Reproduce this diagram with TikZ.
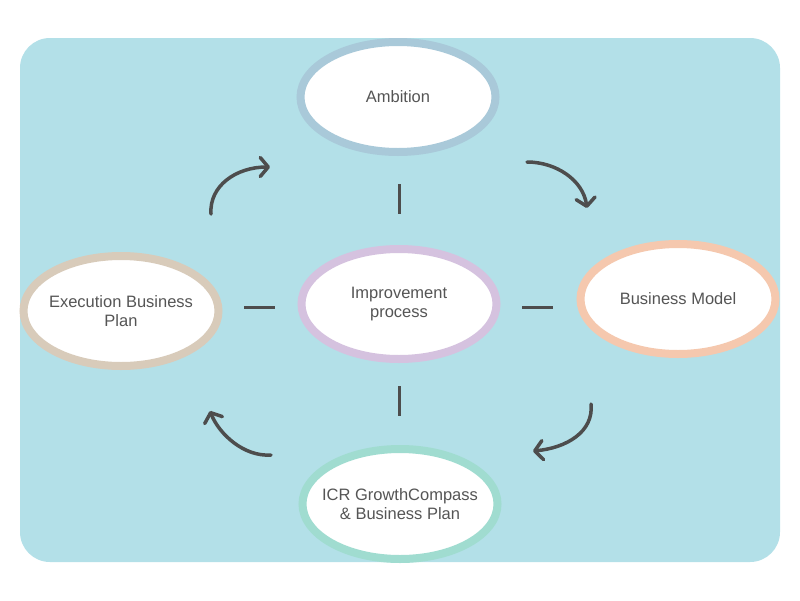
\documentclass[tikz,border=0pt]{standalone}
\usepackage{fontspec}
\setmainfont{Liberation Sans}
\usetikzlibrary{shapes.geometric,arrows.meta}
\definecolor{bgblue}{HTML}{B3E0E8}
\definecolor{cAmb}{HTML}{A9C9D9}
\definecolor{cExe}{HTML}{D8CBBA}
\definecolor{cImp}{HTML}{D5C2DF}
\definecolor{cBus}{HTML}{F5C8AE}
\definecolor{cIcr}{HTML}{A0DCD0}
\definecolor{ink}{HTML}{4D4D4D}
\definecolor{txt}{HTML}{555555}
\tikzset{
  bubble/.style={ellipse, fill=white, line width=8pt, minimum width=195pt, minimum height=110pt,
    align=center, text=txt, font=\fontsize{16.5}{19.5}\selectfont,
    inner xsep=-35pt, inner ysep=-6pt},
  link/.style={draw=ink, line width=3pt},
  flow/.style={draw=ink, line width=3.5pt, line cap=round, line join=round,
    -{Straight Barb[length=8pt,width=19pt,line cap=round,line join=round]}}
}
\begin{document}
\begin{tikzpicture}[x=1pt,y=-1pt]
\useasboundingbox (0,0) rectangle (800,600);
\fill[white] (0,0) rectangle (800,600);
\fill[bgblue, rounded corners=30pt] (20,38) rectangle (780,562);

\node[bubble, draw=cAmb] (amb) at (398,97) {Ambition};
\node[bubble, draw=cImp] (imp) at (399,304) {Improvement\\process};
\node[bubble, draw=cExe] (exe) at (121,311) {Execution Business\\Plan};
\node[bubble, draw=cBus] (bus) at (678,299) {Business Model};
\node[bubble, draw=cIcr] (icr) at (400,504) {ICR GrowthCompass\\\& Business Plan};

% dashes
\coordinate (d1a) at (399,184); \coordinate (d1b) at (399,214);
\coordinate (d2a) at (399,386); \coordinate (d2b) at (399,416);
\coordinate (d3a) at (244,307); \coordinate (d3b) at (275,307);
\coordinate (d4a) at (522,307); \coordinate (d4b) at (553,307);
\draw[link] (d1a) -- (d1b);
\draw[link] (d2a) -- (d2b);
\draw[link] (d3a) -- (d3b);
\draw[link] (d4a) -- (d4b);

% arrows
\coordinate (a1s) at (211,214); \coordinate (a1e) at (270,167);
\coordinate (a2s) at (527,162); \coordinate (a2e) at (587,208);
\coordinate (a3s) at (591,404); \coordinate (a3e) at (533,451);
\coordinate (a4s) at (271,455); \coordinate (a4e) at (210,411);
\draw[flow] (a1s) .. controls (209,186) and (236,167) .. (a1e);
\draw[flow] (a2s) .. controls (556,162) and (583,180) .. (a2e);
\draw[flow] (a3s) .. controls (594,432) and (566,448) .. (a3e);
\draw[flow] (a4s) .. controls (244,457) and (219,434) .. (a4e);
\end{tikzpicture}
\end{document}
